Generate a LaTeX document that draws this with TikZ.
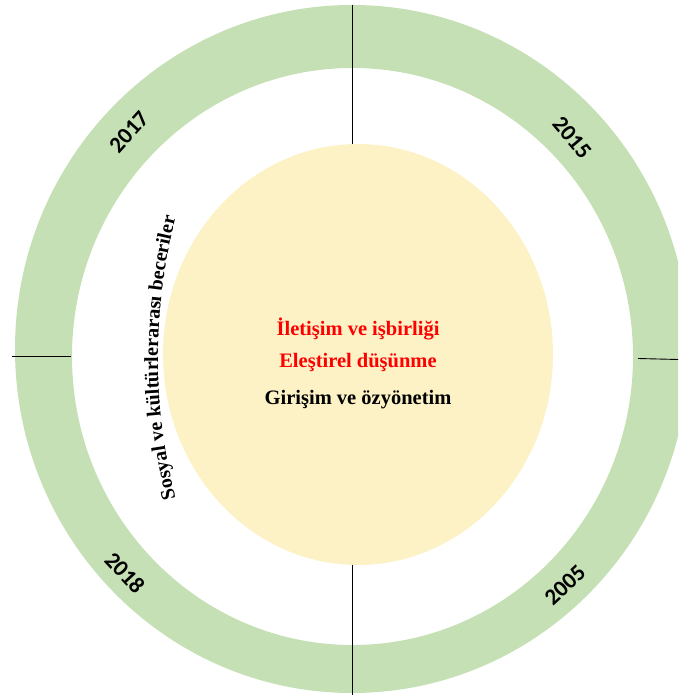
\documentclass[tikz,border=0pt]{standalone}
\usepackage{fontspec}
\setmainfont{Liberation Serif}
\newfontfamily\calfont{Carlito}
\usetikzlibrary{decorations.text}
\definecolor{ringgreen}{HTML}{C5E0B4}
\definecolor{coreyellow}{HTML}{FCF2C6}
\definecolor{txtred}{HTML}{FF0000}
\tikzset{
  yearlbl/.style={font=\calfont\bfseries\fontsize{23}{26}\selectfont, inner sep=0pt},
  corelbl/.style={font=\bfseries\fontsize{20.5}{24}\selectfont, inner sep=0pt},
  divline/.style={draw=black, line width=0.9pt}
}
\begin{document}
\begin{tikzpicture}[x=1pt,y=1pt]
\useasboundingbox (0,0) rectangle (678,698);
\clip (0,0) rectangle (678,698);
% ring
\fill[ringgreen, even odd rule] (352,349) ellipse [x radius=337, y radius=344]
  (352.5,341.5) ellipse [x radius=280.5, y radius=288.5];
% core
\fill[coreyellow] (358,343.5) ellipse [x radius=195, y radius=210.5];
% divider lines
\coordinate (topA) at (352,693);
\coordinate (topB) at (352,554);
\coordinate (botA) at (352,133);
\coordinate (botB) at (352,3);
\coordinate (lefA) at (12,342);
\coordinate (lefB) at (71,342);
\coordinate (rigA) at (638,339.5);
\coordinate (rigB) at (678,338.5);
\draw[divline] (topA) -- (topB);
\draw[divline] (botA) -- (botB);
\draw[divline] (lefA) -- (lefB);
\draw[divline] (rigA) -- (rigB);
% years
\node[yearlbl, rotate=48] (y2017) at (129,566) {2017};
\node[yearlbl, rotate=-50] (y2015) at (572,560) {2015};
\node[yearlbl, rotate=-47] (y2018) at (125,125) {2018};
\node[yearlbl, rotate=43] (y2005) at (565,113) {2005};
% core texts
\node[corelbl, text=txtred] (c1) at (358,369) {İletişim ve işbirliği};
\node[corelbl, text=txtred] (c2) at (358,335) {Eleştirel düşünme};
\node[corelbl, text=black] (c3) at (358,298) {Girişim ve özyönetim};
% curved text
\path[decorate, decoration={text along path, text align=center,
  text={|\bfseries\fontsize{20}{24}\selectfont|Sosyal ve kültürlerarası beceriler}}]
  (726,340) ++(197:568) arc[start angle=197, end angle=163, radius=568];
\end{tikzpicture}
\end{document}
